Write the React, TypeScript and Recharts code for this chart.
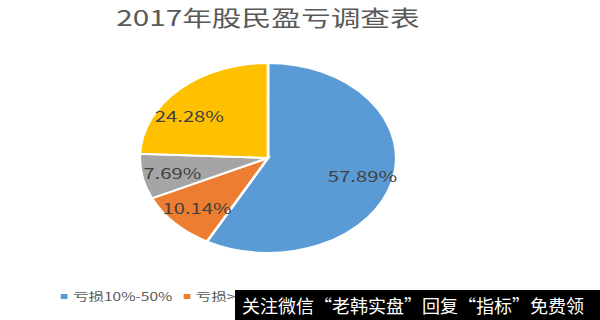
import { Cell, Legend, Pie, PieChart } from "recharts"

const CATEGORIES = ["亏损10%-50%", "亏损>50%", "持平", "盈利"]
const SHARES = [57.89, 10.14, 7.69, 24.28]
const COLORS = ["#5b9bd5", "#ed7d31", "#a5a5a5", "#ffc000"]

const STRETCH = 1.35
const FONT = "'Noto Sans CJK SC', 'Open Sans', sans-serif"

const data = CATEGORIES.map((name, i) => ({ name, value: SHARES[i] }))

const RAD = Math.PI / 180

function renderLabel(props: any) {
  const { cx, cy, midAngle, outerRadius, index } = props
  const r = outerRadius * 0.76
  // excel pushes the labels a little toward the lower left
  const a = midAngle + (index === 3 ? 10 : 0)
  const x = cx + r * Math.cos(-a * RAD)
  const y = cy + r * Math.sin(-a * RAD)
  return (
    <text
      x={x}
      y={y}
      fill="#404040"
      fontSize={15}
      fontFamily={FONT}
      textAnchor="middle"
      dominantBaseline="central"
    >
      {SHARES[index].toFixed(2)}%
    </text>
  )
}

function LegendRow({ payload }: any) {
  return (
    <div style={{ display: "flex", fontSize: 11.5, color: "#595959" }}>
      {(payload || []).map((item: any) => (
        <div
          key={item.value}
          style={{ width: 91, display: "flex", alignItems: "center" }}
        >
          <span
            style={{
              width: 5,
              height: 5,
              background: item.color,
              marginRight: 4,
              display: "inline-block",
            }}
          />
          {item.value}
        </div>
      ))}
    </div>
  )
}

export default function App() {
  const w = Math.round(600 / STRETCH)
  return (
    <div
      style={{
        position: "fixed",
        left: 0,
        top: 0,
        width: 600,
        height: 320,
        background: "#fff",
        overflow: "hidden",
        fontFamily: FONT,
      }}
    >
      <div
        style={{
          position: "absolute",
          left: 0,
          top: 0,
          width: w,
          height: 320,
          transform: `scaleX(${STRETCH})`,
          transformOrigin: "0 0",
        }}
      >
        <div
          style={{
            position: "absolute",
            left: 0,
            top: 3,
            width: 397,
            textAlign: "center",
            fontSize: 22,
            color: "#595959",
            lineHeight: "26px",
          }}
        >
          2017年股民盈亏调查表
        </div>
        <PieChart
          width={w}
          height={320}
          margin={{ top: 0, right: 0, bottom: 0, left: 0 }}
        >
          <Pie
            data={data}
            dataKey="value"
            nameKey="name"
            cx={198.5}
            cy={158}
            outerRadius={95}
            startAngle={90}
            endAngle={-270}
            stroke="#ffffff"
            strokeWidth={2}
            label={renderLabel}
            labelLine={false}
            isAnimationActive={false}
          >
            {data.map((_, i) => (
              <Cell key={i} fill={COLORS[i]} />
            ))}
          </Pie>
          <Legend
            content={<LegendRow />}
            wrapperStyle={{ top: 288, left: 45, width: 380 }}
          />
        </PieChart>
      </div>
      <div
        style={{
          position: "absolute",
          left: 235,
          top: 290,
          width: 365,
          height: 30,
          background: "#000",
          color: "#fff",
          fontSize: 18,
          lineHeight: "30px",
          paddingLeft: 7,
          boxSizing: "border-box",
          whiteSpace: "nowrap",
        }}
      >
        关注微信“老韩实盘”回复“指标”免费领
      </div>
    </div>
  )
}
